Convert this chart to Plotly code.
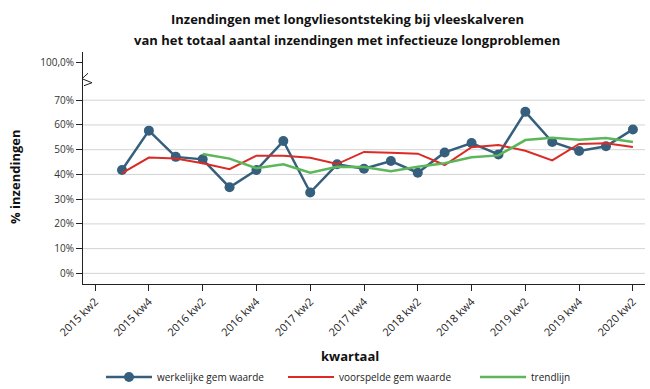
import plotly.graph_objects as go

categories = ["2015 kw2", "2015 kw3", "2015 kw4",
              "2016 kw1", "2016 kw2", "2016 kw3", "2016 kw4",
              "2017 kw1", "2017 kw2", "2017 kw3", "2017 kw4",
              "2018 kw1", "2018 kw2", "2018 kw3", "2018 kw4",
              "2019 kw1", "2019 kw2", "2019 kw3", "2019 kw4",
              "2020 kw1", "2020 kw2"]

werkelijk_x = categories[1:]
werkelijk = [41.8, 57.7, 47.1, 46.1, 34.8, 41.8, 53.5, 32.7, 44.1, 42.3,
             45.4, 40.7, 48.9, 52.7, 48.1, 65.3, 53.1, 49.5, 51.4, 58.2]

voorspeld_x = categories[1:]
voorspeld = [40.5, 46.8, 46.4, 44.5, 42.1, 47.6, 47.6, 46.7, 44.2, 49.1,
             48.8, 48.4, 43.8, 51.0, 51.9, 49.6, 45.7, 52.3, 52.6, 51.1]

trend_x = categories[4:]
trend = [48.3, 46.4, 42.5, 44.1, 40.7, 43.1, 43.0, 41.3, 43.1, 44.5,
         46.9, 47.7, 53.9, 54.8, 54.0, 54.7, 53.1]

tick_cats = categories[0::2]
tick_labels = tick_cats
y_tickvals = [0, 10, 20, 30, 40, 50, 60, 70, 85.1]
y_ticktext = ["0%", "10%", "20%", "30%", "40%", "50%", "60%", "70%", "100,0%"]
grid_vals = [0, 10, 20, 30, 40, 50, 60, 70]

title_1 = "Inzendingen met longvliesontsteking bij vleeskalveren"
title_2 = "van het totaal aantal inzendingen met infectieuze longproblemen"
x_title = "kwartaal"
y_title = "% inzendingen"

FONT = "Open Sans"
BLUE = "#355f7c"
RED = "#dc2a24"
GREEN = "#5cb65a"

L, R, T, B = 83, 645, 51.7, 284.3
def px(x):
    return (x - L) / (R - L)
def py(y):
    return (B - y) / (B - T)

fig = go.Figure()
fig.add_trace(go.Scatter(x=werkelijk_x, y=werkelijk, mode="lines+markers",
                         name="werkelijke gem waarde", legend="legend",
                         line=dict(color=BLUE, width=2.5),
                         marker=dict(color=BLUE, size=10)))
fig.add_trace(go.Scatter(x=voorspeld_x, y=voorspeld, mode="lines",
                         name="voorspelde gem waarde", legend="legend2",
                         line=dict(color=RED, width=2)))
fig.add_trace(go.Scatter(x=trend_x, y=trend, mode="lines",
                         name="trendlijn", legend="legend3",
                         line=dict(color=GREEN, width=2.5)))

shapes = []
for g in grid_vals:
    shapes.append(dict(type="line", xref="paper", yref="y", x0=0, x1=1,
                       y0=g, y1=g, line=dict(color="#d3d3d3", width=1),
                       layer="below"))

# axis break zigzag
pts = [(88, 73), (82, 78.5), (92, 82.5), (84, 85.5)]
path = "M " + " L ".join(f"{px(a):.5f},{py(b):.5f}" for a, b in pts)
shapes.append(dict(type="path", xref="paper", yref="paper", path=path,
                   line=dict(color="#222222", width=1)))

annotations = [
    dict(text=f"<b>{title_1}</b>", xref="paper", yref="paper", x=px(347), y=py(19),
         xanchor="center", yanchor="middle", showarrow=False,
         font=dict(family=FONT, size=13, color="#111111")),
    dict(text=f"<b>{title_2}</b>", xref="paper", yref="paper", x=px(347), y=py(40),
         xanchor="center", yanchor="middle", showarrow=False,
         font=dict(family=FONT, size=13, color="#111111")),
    dict(text=f"<b>{x_title}</b>", xref="paper", yref="paper", x=px(350), y=py(356),
         xanchor="center", yanchor="middle", showarrow=False,
         font=dict(family=FONT, size=13, color="#111111")),
    dict(text=f"<b>{y_title}</b>", xref="paper", yref="paper", x=px(15), y=py(177),
         xanchor="center", yanchor="middle", showarrow=False, textangle=-90,
         font=dict(family=FONT, size=13, color="#111111")),
]

leg_font = dict(family=FONT, size=10, color="#222222")
leg_y = -(363 - B) / (B - T)
def leg(xpix):
    return dict(orientation="h", x=px(xpix), xanchor="left", y=leg_y,
                yanchor="top", font=leg_font, bgcolor="rgba(0,0,0,0)",
                itemwidth=46)

fig.update_layout(
    width=650, height=389,
    margin=dict(l=L, r=650 - R, t=T, b=389 - B, autoexpand=False),
    paper_bgcolor="white", plot_bgcolor="white",
    font=dict(family=FONT, color="#222222", size=10),
    showlegend=True,
    legend=leg(101), legend2=leg(283), legend3=leg(475),
    shapes=shapes, annotations=annotations,
)

fig.update_xaxes(type="category", categoryorder="array", categoryarray=categories,
                 range=[-0.45, 20.45], tickmode="array", tickvals=tick_cats,
                 ticktext=tick_labels, tickangle=-45, ticks="outside", ticklen=6,
                 tickcolor="#222222", showline=True, linecolor="#222222",
                 linewidth=1, showgrid=False, zeroline=False, automargin=False,
                 tickfont=dict(size=11, color="#222222"))
fig.update_yaxes(range=[-4.3, 89.5], tickmode="array", tickvals=y_tickvals,
                 ticktext=y_ticktext, ticks="outside", ticklen=6,
                 tickcolor="#222222", showline=True, linecolor="#222222",
                 linewidth=1, showgrid=False, zeroline=False, automargin=False,
                 tickfont=dict(size=10, color="#333333"))

fig.write_html("out.html", config={"displayModeBar": False},
               post_script="document.body.style.margin='0';document.body.style.padding='0';")
